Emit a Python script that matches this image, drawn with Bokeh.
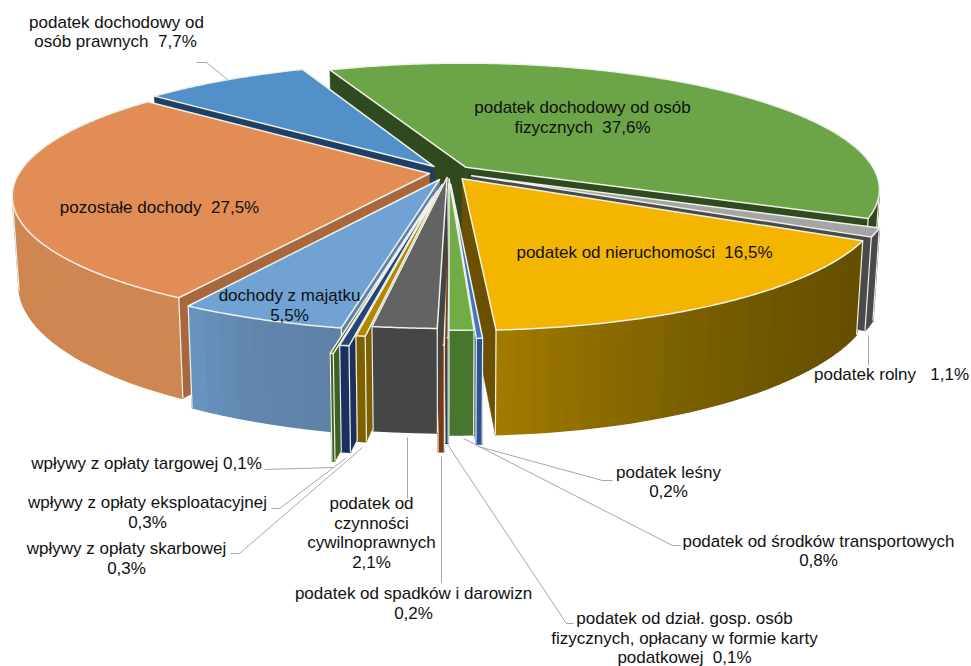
import math
from bokeh.plotting import figure
from bokeh.models import Range1d, ColumnDataSource
from bokeh.core.properties import value
from bokeh.embed import file_html
from bokeh.resources import INLINE

# ---- data (clockwise order of the pie)
categories = ["podatek dochodowy od osób fizycznych", "podatek rolny", "podatek od nieruchomości",
              "podatek leśny", "podatek od środków transportowych",
              "podatek od dział. gosp. osób fizycznych, opłacany w formie karty podatkowej",
              "podatek od spadków i darowizn", "podatek od czynności cywilnoprawnych",
              "wpływy z opłaty skarbowej", "wpływy z opłaty eksploatacyjnej",
              "wpływy z opłaty targowej", "dochody z majątku", "pozostałe dochody",
              "podatek dochodowy od osób prawnych"]
values = [37.6, 1.1, 16.5, 0.2, 0.8, 0.1, 0.2, 2.1, 0.3, 0.3, 0.1, 5.5, 27.5, 7.7]

# ---- styles, one per slice
explode = [.06, .062, .06, .095, .05, .09, .13, .04, .095, .15, .195, .06, .047, .06]
top_col = ["#6BA547", "#A5A5A5", "#F3B500", "#4472C4", "#70AD47", "#255E91", "#B85A22", "#636363",
           "#B38600", "#264478", "#43682B", "#70A3D3", "#E38D56", "#5290CA"]
radial_col = ["#2F4A1E", "#4A4A4A", "#6A5000", "#2E5290", "#47762F", "#1B4566", "#7A3A12", "#444444",
              "#7F6000", "#1B3060", "#3F6020", "#5F81A8", "#A8673C", "#1F3F63"]
wall_a = ["#2F4A1E", "#4A4A4A", "#665000", "#2E5290", "#47762F", "#1B4566", "#7A3A12", "#464646",
          "#7F6000", "#1B3060", "#3F6020", "#5F81A8", "#CF8650", "#1F3F63"]
wall_b = ["#2F4A1E", "#4A4A4A", "#A37C00", "#2E5290", "#47762F", "#1B4566", "#7A3A12", "#464646",
          "#7F6000", "#1B3060", "#3F6020", "#6895BF", "#D08551", "#1F3F63"]
paint_order = [0, 13, 1, 12, 2, 11, 10, 9, 8, 3, 4, 5, 6, 7]
EDGE = "#EEF1E8"

# ---- projection
CX, CY, R, KR, A, H, SHRINK = 448.0, 172.0, 410.0, 123.5, 0.17, 86.0, 0.985
START = -22.3


def proj(X, Y, bottom=False):
    s = 1 / (1 + A * Y)
    x = CX + R * X * s
    y = CY - KR * Y * s
    if bottom:
        x = CX + (x - CX) * SHRINK
        y = y + H * s
    return x, y


def lerp_hex(a, b, t):
    ca = [int(a[i:i + 2], 16) for i in (1, 3, 5)]
    cb = [int(b[i:i + 2], 16) for i in (1, 3, 5)]
    return "#%02x%02x%02x" % tuple(round(u + (v - u) * t) for u, v in zip(ca, cb))


def area(pts):
    return sum(pts[i][0] * pts[(i + 1) % len(pts)][1] - pts[(i + 1) % len(pts)][0] * pts[i][1]
               for i in range(len(pts)))


p = figure(width=971, height=666, x_range=Range1d(0, 971), y_range=Range1d(666, 0),
           x_axis_type=None, y_axis_type=None, toolbar_location=None, output_backend="svg",
           min_border=0, outline_line_color=None, background_fill_color="white")
p.grid.visible = False

total = sum(values)
spans = {}
cum = 0.0
for i, v in enumerate(values):
    a0 = START + 360 * cum / total
    cum += v
    spans[i] = (a0, START + 360 * cum / total)


def poly(pts, fill, line=None, lw=0.6):
    p.patch([q[0] for q in pts], [q[1] for q in pts], fill_color=fill,
            line_color=line or fill, line_width=lw, line_join="round")


for i in paint_order:
    a0, a1 = spans[i]
    m = math.radians((a0 + a1) / 2)
    ox, oy = explode[i] * math.sin(m), explode[i] * math.cos(m)

    def pt(deg, bottom=False):
        t = math.radians(deg)
        return proj(ox + math.sin(t), oy + math.cos(t), bottom)

    apexT = proj(ox, oy)
    apexB = proj(ox, oy, True)
    # radial walls
    w0 = [apexT, pt(a0), pt(a0, True), apexB]
    if area(w0) < 0:
        poly(w0, radial_col[i])
    w1 = [apexT, pt(a1), pt(a1, True), apexB]
    if area(w1) > 0:
        poly(w1, radial_col[i])
    # outer wall, in small quads so that it can carry a gradient
    n = max(2, int((a1 - a0) / 2.0))
    xs, ys, cols = [], [], []
    vis = []
    for k in range(n):
        b0 = a0 + (a1 - a0) * k / n
        b1 = a0 + (a1 - a0) * (k + 1) / n
        q = [pt(b0), pt(b1), pt(b1, True), pt(b0, True)]
        if area(q) < 0:
            t = ((k + .5) / n) ** 2
            xs.append([c[0] for c in q])
            ys.append([c[1] for c in q])
            cols.append(lerp_hex(wall_a[i], wall_b[i], t))
            vis.append((b0, b1))
    if xs:
        p.patches(xs="xs", ys="ys", fill_color="c", line_color="c", line_width=1.5,
                  source=ColumnDataSource(dict(xs=xs, ys=ys, c=cols)))
        for d in (vis[0][0], vis[-1][1]):
            a, b = pt(d), pt(d, True)
            p.line([a[0], b[0]], [a[1], b[1]], line_color=EDGE, line_width=1.2)
    # top face
    steps = max(2, int(a1 - a0) * 2)
    arc = [pt(a0 + (a1 - a0) * k / steps) for k in range(steps + 1)]
    poly([apexT] + arc, top_col[i], EDGE, 1.5)

# ---- leader lines (page layout)
LEADERS = [
    ([196, 206, 227], [62, 62, 79]),
    ([868, 868], [335, 365]),
    ([478, 602, 612], [446, 480, 480]),
    ([463, 672, 680], [438, 545, 545]),
    ([447, 566, 573], [444, 623, 623]),
    ([441, 441], [456, 582]),
    ([407, 407], [437, 498]),
    ([264, 332], [469, 467]),
    ([271, 279, 345], [508, 508, 458]),
    ([230, 239, 362], [553, 553, 447]),
]
for lx, ly in LEADERS:
    p.line(lx, ly, line_color="#A6A6A6", line_width=1)

# ---- labels: text, centre x, baseline-middle y
NB = "\u00a0"
LABELS = [
    ("podatek dochodowy od", 116, 22), (f"osób prawnych{NB} 7,7%", 115, 41),
    ("podatek dochodowy od osób", 582, 107), (f"fizycznych{NB} 37,6%", 582, 127),
    (f"podatek od nieruchomości{NB} 16,5%", 644, 252),
    (f"pozostałe dochody{NB} 27,5%", 159, 207),
    ("dochody z majątku", 289, 295), ("5,5%", 289, 315),
    (f"podatek rolny{NB}{NB} 1,1%", 891, 374),
    ("podatek leśny", 668, 472), ("0,2%", 668, 491),
    ("podatek od środków transportowych", 818, 541), ("0,8%", 818, 560),
    ("podatek od dział. gosp. osób", 684, 618), ("fizycznych, opłacany w formie karty", 684, 638),
    (f"podatkowej{NB} 0,1%", 684, 657),
    ("podatek od spadków i darowizn", 413, 593), ("0,2%", 413, 613),
    ("podatek od", 371, 503), ("czynności", 371, 523), ("cywilnoprawnych", 371, 542), ("2,1%", 371, 562),
    ("wpływy z opłaty targowej 0,1%", 146, 463),
    ("wpływy z opłaty eksploatacyjnej", 147, 502), ("0,3%", 147, 522),
    ("wpływy z opłaty skarbowej", 126, 548), ("0,3%", 126, 568),
]
p.text(x=[a[1] for a in LABELS], y=[a[2] for a in LABELS], text=[a[0] for a in LABELS],
       text_font=value("Liberation Sans"), text_font_size="17px", text_color="#111111",
       text_align="center", text_baseline="middle")

open("out.html", "w").write(file_html(p, INLINE))
